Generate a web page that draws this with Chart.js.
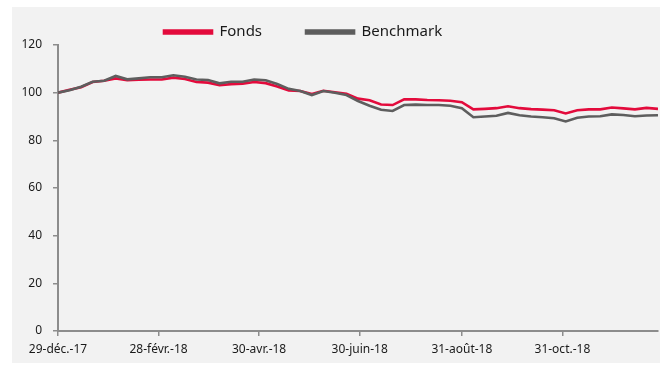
<!DOCTYPE html>
<html>
<head>
<meta charset="utf-8">
<script src="https://cdn.jsdelivr.net/npm/chart.js@4.4.1/dist/chart.umd.min.js"></script>
<style>
  html, body { margin: 0; padding: 0; background: #ffffff; }
  #wrap { position: relative; width: 660px; height: 367px; }
  #c { position: absolute; left: 0; top: 0; }
</style>
</head>
<body>
<div id="wrap"><canvas id="c" width="660" height="367"></canvas></div>
<script>
// ---- Data ----
const dates = [
  '2017-12-29','2018-01-05','2018-01-12','2018-01-19','2018-01-26','2018-02-02','2018-02-09','2018-02-16','2018-02-23',
  '2018-03-02','2018-03-09','2018-03-16','2018-03-23','2018-03-30','2018-04-06','2018-04-13','2018-04-20','2018-04-27',
  '2018-05-04','2018-05-11','2018-05-18','2018-05-25','2018-06-01','2018-06-08','2018-06-15','2018-06-22','2018-06-29',
  '2018-07-06','2018-07-13','2018-07-20','2018-07-27','2018-08-03','2018-08-10','2018-08-17','2018-08-24','2018-08-31',
  '2018-09-07','2018-09-14','2018-09-21','2018-09-28','2018-10-05','2018-10-12','2018-10-19','2018-10-26',
  '2018-11-02','2018-11-09','2018-11-16','2018-11-23','2018-11-30','2018-12-07','2018-12-14','2018-12-21','2018-12-28'
];
const fonds = [
  100, 101.2, 102.3, 104.5, 105, 106, 105.2, 105.4, 105.5,
  105.5, 106.3, 105.7, 104.5, 104.2, 103.1, 103.6, 103.8, 104.5,
  104.0, 102.6, 100.9, 100.7, 99.4, 100.8, 100.2, 99.5, 97.5,
  96.8, 95.0, 94.8, 97.2, 97.2, 96.9, 96.8, 96.6, 96.0,
  93.0, 93.2, 93.5, 94.3, 93.5, 93.1, 92.9, 92.6,
  91.3, 92.6, 93.0, 93.0, 93.8, 93.4, 93.0, 93.6, 93.2
];
const benchmark = [
  100, 101.0, 102.5, 104.6, 105, 107, 105.6, 106, 106.5,
  106.5, 107.3, 106.7, 105.5, 105.3, 103.9, 104.6, 104.6, 105.5,
  105.2, 103.6, 101.6, 100.7, 99.0, 100.7, 100.0, 99.0, 96.5,
  94.5, 92.8, 92.3, 94.8, 95.0, 94.8, 94.8, 94.5, 93.5,
  89.7, 90.0, 90.3, 91.5, 90.5, 90.0, 89.7, 89.3,
  87.9, 89.5, 90.0, 90.1, 90.9, 90.6, 90.1, 90.4, 90.5
];
const tickDates = ['2017-12-29','2018-02-28','2018-04-30','2018-06-30','2018-08-31','2018-10-31'];
const tickLabels = ['29-déc.-17','28-févr.-18','30-avr.-18','30-juin-18','31-août-18','31-oct.-18'];
const yTicks = [0, 20, 40, 60, 80, 100, 120];
const seriesNames = ['Fonds', 'Benchmark'];

// ---- Helpers ----
const DAY = 86400000;
const t0 = Date.parse(dates[0] + 'T00:00:00Z');
const dayOf = d => Math.round((Date.parse(d + 'T00:00:00Z') - t0) / DAY);
const tickDays = tickDates.map(dayOf);
const xMax = dayOf(dates[dates.length - 1]);

const FONT = "'Noto Sans', 'DejaVu Sans', sans-serif";
const AXIS = '#8c8c8c';

const helper = {
  id: 'helper',
  beforeDraw(chart) {
    const ctx = chart.ctx;
    ctx.save();
    ctx.fillStyle = '#f2f2f2';
    ctx.fillRect(12, 7, 648, 356);
    ctx.restore();
    if (chart.legend) {
      chart.legend.left = 120;
      chart.legend.top = -19.5;
    }
  }
};

new Chart(document.getElementById('c'), {
  type: 'line',
  data: {
    datasets: [
      { label: seriesNames[0], data: dates.map((d, i) => ({ x: dayOf(d), y: fonds[i] })),
        borderColor: '#e30b3c', backgroundColor: '#e30b3c', borderWidth: 2.6, pointRadius: 0, tension: 0, order: 1 },
      { label: seriesNames[1], data: dates.map((d, i) => ({ x: dayOf(d), y: benchmark[i] })),
        borderColor: '#5e5e5e', backgroundColor: '#5e5e5e', borderWidth: 2.6, pointRadius: 0, tension: 0, order: 0 }
    ]
  },
  options: {
    responsive: false,
    animation: false,
    devicePixelRatio: 1,
    layout: { padding: { top: 15, right: 2, left: 0, bottom: 0 } },
    plugins: {
      tooltip: { enabled: false },
      legend: {
        position: 'top', align: 'start', maxHeight: 30,
        labels: { boxWidth: 48, boxHeight: 3, padding: 44, color: '#1a1a1a',
          font: { family: FONT, size: 15 }, sort: (a, b) => a.datasetIndex - b.datasetIndex }
      }
    },
    scales: {
      x: {
        type: 'linear', min: 0, max: xMax,
        afterFit: s => { s.height = 36; },
        afterBuildTicks: s => { s.ticks = tickDays.map(v => ({ value: v })); },
        ticks: { autoSkip: false, maxRotation: 0, minRotation: 0, align: 'center', padding: 6, color: '#1a1a1a',
          font: { family: FONT, size: 12 },
          callback: v => { const k = tickDays.indexOf(v); return k >= 0 ? tickLabels[k] : ''; } },
        grid: { drawOnChartArea: false, drawTicks: true, tickLength: 5, color: AXIS, lineWidth: 1.5 },
        border: { color: AXIS, width: 2 }
      },
      y: {
        min: 0, max: 120,
        afterFit: s => { s.width = 58; },
        afterBuildTicks: s => { s.ticks = yTicks.map(v => ({ value: v })); },
        ticks: { padding: 11, color: '#1a1a1a', font: { family: FONT, size: 12 } },
        grid: { drawOnChartArea: false, drawTicks: true, tickLength: 5, color: AXIS, lineWidth: 1.5 },
        border: { color: AXIS, width: 2 }
      }
    }
  },
  plugins: [helper]
});
</script>
</body>
</html>
